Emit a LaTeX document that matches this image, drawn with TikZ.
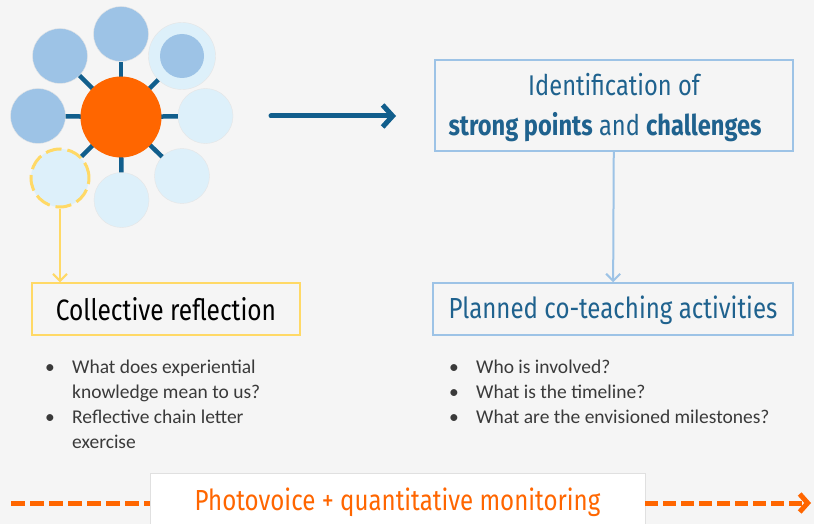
\documentclass[tikz,border=0pt]{standalone}
\usepackage{fontspec}
\setmainfont{Carlito}
\newfontfamily\headfont[FakeStretch=0.83]{Fira Sans}
\usepackage{tikz}
\usetikzlibrary{arrows.meta, positioning}
\definecolor{bgcol}{HTML}{F5F5F5}
\definecolor{darkpetal}{HTML}{9DC3E6}
\definecolor{lightpetal}{HTML}{DDF0FA}
\definecolor{hubcol}{HTML}{FF6600}
\definecolor{spokecol}{HTML}{115E8C}
\definecolor{titlecol}{HTML}{1F628E}
\definecolor{sunyellow}{HTML}{FFD966}
\definecolor{bulletgray}{HTML}{3A3A3A}
\tikzstyle{petal}    = [circle, inner sep=0pt, minimum size=55pt, draw=black!10, line width=0.4pt]
\tikzstyle{titlebox} = [rectangle, draw, line width=1.5pt, fill=bgcol, align=center, inner sep=0pt]
\tikzstyle{bullets}  = [anchor=north west, inner sep=0pt, align=left, text=bulletgray, font=\fontsize{19.5}{25}\selectfont]
\tikzstyle{spoke}    = [spokecol, line width=4.5pt]
\tikzstyle{arrow}    = [-{Straight Barb[length=7pt, width=14pt]}, line width=2pt]
\newcommand{\bul}{\makebox[27pt][l]{\textbullet}}
\newcommand{\hang}{\hspace*{27pt}}

\begin{document}
\begin{tikzpicture}[x=1pt, y=-1pt]
    \useasboundingbox [fill=bgcol] (0,0) rectangle (814,524);

    % flower of petals round the hub
    \coordinate (hubc) at (121,117);
    \node (p1) [petal, fill=darkpetal] at (121,34) {};
    \node (p2) [petal, fill=darkpetal] at (60,56) {};
    \node (p3) [petal, fill=darkpetal] at (38,116) {};
    \node (p4) [petal, fill=lightpetal, minimum size=67pt] at (182,56) {};
    \node (p4in) [circle, fill=darkpetal, minimum size=44pt, inner sep=0pt] at (p4) {};
    \node (p5) [petal, fill=lightpetal] at (205.5,116) {};
    \node (p6) [petal, fill=lightpetal] at (182,176) {};
    \node (p7) [petal, fill=lightpetal] at (121.5,200) {};
    \node (p8) [petal, fill=lightpetal, minimum size=58pt, draw=sunyellow, line width=3pt,
                dash pattern=on 16pt off 6pt] at (60,178) {};
    \foreach \p in {p1,p2,p3,p4,p5,p6,p7,p8}
        \draw [spoke] (hubc) -- (\p);
    \node (hub) [circle, fill=hubcol, minimum size=81pt, inner sep=0pt] at (hubc) {};

    % boxes
    \node (reflect) [titlebox, draw=sunyellow, minimum width=268pt, minimum height=52pt,
        font=\headfont\fontsize{29.5}{30}\selectfont] at (166,309) {Collective reflection};
    \node (ident) [titlebox, draw=darkpetal, text=titlecol, minimum width=358pt, minimum height=91pt,
        font=\headfont\fontsize{28.5}{40}\selectfont] at (614,105.5) {};
    \node (identtext) [align=center, inner sep=0pt, text=titlecol,
        font=\headfont\fontsize{28.5}{40}\selectfont] at (614,108) {Identification of\\
        \textbf{strong points} and \textbf{challenges}\hspace*{18pt}};
    \node (plan) [titlebox, draw=darkpetal, text=titlecol, minimum width=360pt, minimum height=52pt,
        font=\headfont\fontsize{29}{29}\selectfont, text depth=4pt] at (613,309) {Planned co-teaching activities};

    % bullet lists
    \node (leftlist) [bullets] at (45,360) {\bul What does experiential\\
        \hang knowledge mean to us?\\ \bul Reflective chain letter\\ \hang exercise};
    \node (rightlist) [bullets] at (449,360) {\bul Who is involved?\\
        \bul What is the timeline?\\ \bul What are the envisioned milestones?};

    % arrows
    \coordinate (bigstart) at (271,116);
    \coordinate (bigend) at (396,116);
    \draw [-{Straight Barb[length=10pt, width=22pt]}, spokecol, line width=5pt, line cap=round]
        (bigstart) -- (bigend);
    \draw [arrow, sunyellow] (p8.south) -- (p8.south |- reflect.north);
    \draw [arrow, darkpetal] (ident) -- (plan);

    % monitoring bar
    \node (photo) [rectangle, fill=white, draw=black!12, minimum width=495pt, minimum height=58pt,
        text=hubcol, inner sep=0pt, font=\headfont\fontsize{29}{29}\selectfont]
        at (397.5,502) {Photovoice + quantitative monitoring};
    \coordinate (dashl) at (11,503);
    \coordinate (dashr) at (811,503);
    \draw [hubcol, line width=5pt, dash pattern=on 14pt off 5pt] (dashl) -- (photo.west |- dashl);
    \draw [hubcol, line width=5pt, dash pattern=on 13pt off 5pt,
        -{Straight Barb[length=8pt, width=18pt]}] (photo.east |- dashr) -- (dashr);
\end{tikzpicture}
\end{document}
